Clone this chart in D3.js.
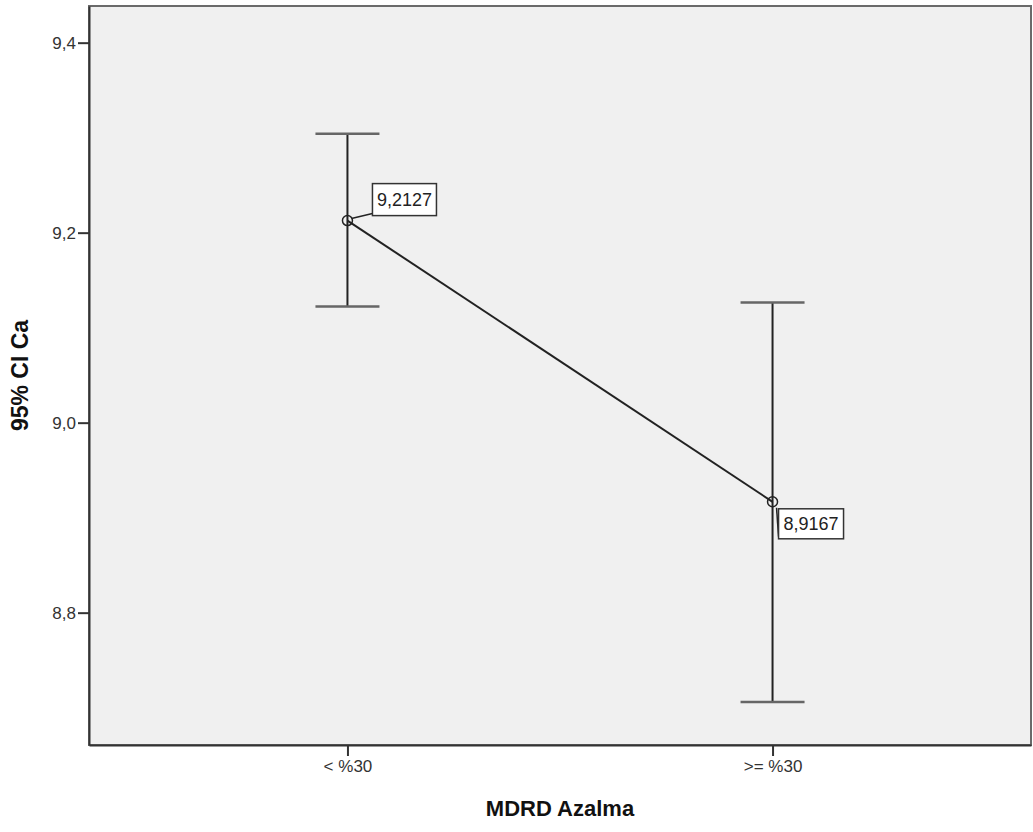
<!DOCTYPE html>
<html>
<head>
<meta charset="utf-8">
<script src="https://cdn.jsdelivr.net/npm/d3@7"></script>
<style>
  body { margin: 0; background: #fff; }
  text { font-family: "Liberation Sans", Arial, sans-serif; }
</style>
</head>
<body>
<svg id="chart" width="1033" height="832"></svg>
<script>
const categories = ["< %30", ">= %30"];
const means = [9.2127, 8.9167];
const lower = [9.1224, 8.706];
const upper = [9.304, 9.1266];
const yTicks = [8.8, 9.0, 9.2, 9.4];
const yDomain = [8.6607, 9.4386];

const data = categories.map((c, i) => ({ cat: c, mean: means[i], lo: lower[i], hi: upper[i] }));

const svg = d3.select("#chart");
const margin = { top: 6, right: 2, bottom: 87, left: 89 };
const width = +svg.attr("width") - margin.left - margin.right;
const height = +svg.attr("height") - margin.top - margin.bottom;

const locale = d3.formatLocale({ decimal: ",", thousands: ".", grouping: [3], currency: ["", ""] });
const fmt1 = locale.format(".1f");
const fmt4 = locale.format(".4f");

const g = svg.append("g").attr("transform", `translate(${margin.left},${margin.top})`);

const x = d3.scalePoint()
    .domain(categories)
    .range([0, width])
    .padding(0.608);

const y = d3.scaleLinear()
    .domain(yDomain)
    .range([height, 0]);

// plot background + frame
g.append("rect")
    .attr("width", width)
    .attr("height", height)
    .attr("fill", "#f0f0f0")
    .attr("stroke", "#6a6a6a")
    .attr("stroke-width", 2);

// axes
const yAxis = g.append("g")
    .call(d3.axisLeft(y).tickValues(yTicks).tickFormat(fmt1).tickSize(11).tickSizeOuter(0).tickPadding(2));
const xAxis = g.append("g")
    .attr("transform", `translate(0,${height})`)
    .call(d3.axisBottom(x).tickSize(11).tickSizeOuter(0).tickPadding(4));

[yAxis, xAxis].forEach(a => {
    a.select(".domain").attr("stroke", "#333").attr("stroke-width", 2);
    a.selectAll(".tick line").attr("stroke", "#333").attr("stroke-width", 2);
    a.selectAll(".tick text").attr("fill", "#333").style("font-size", "17px")
        .style("font-family", "'Liberation Sans', Arial, sans-serif");
});

// error bars
const capHalf = 32;
g.selectAll(".whisker")
    .data(data)
    .enter()
    .append("line")
    .attr("x1", d => x(d.cat)).attr("x2", d => x(d.cat))
    .attr("y1", d => y(d.hi)).attr("y2", d => y(d.lo))
    .attr("stroke", "#222")
    .attr("stroke-width", 2);

["hi", "lo"].forEach(k => {
    g.selectAll(".cap-" + k)
        .data(data)
        .enter()
        .append("line")
        .attr("x1", d => x(d.cat) - capHalf).attr("x2", d => x(d.cat) + capHalf)
        .attr("y1", d => y(d[k])).attr("y2", d => y(d[k]))
        .attr("stroke", "#666")
        .attr("stroke-width", 2.5);
});

// mean line
g.append("path")
    .datum(data)
    .attr("fill", "none")
    .attr("stroke", "#222")
    .attr("stroke-width", 2)
    .attr("d", d3.line().x(d => x(d.cat)).y(d => y(d.mean)));

// labels (box offsets relative to the point)
const boxes = [
    { dx: 25, dy: -37, w: 64, h: 32, lx: 4, ly: -2 },
    { dx: 6, dy: 7, w: 65, h: 30, lx: 4, ly: 6 }
];
data.forEach((d, i) => {
    const cx = x(d.cat), cy = y(d.mean), b = boxes[i];
    g.append("line")
        .attr("x1", cx + b.lx).attr("y1", cy + b.ly)
        .attr("x2", cx + b.dx).attr("y2", cy + b.dy + b.h - 2)
        .attr("stroke", "#222").attr("stroke-width", 1.5);
    g.append("rect")
        .attr("x", cx + b.dx).attr("y", cy + b.dy)
        .attr("width", b.w).attr("height", b.h)
        .attr("fill", "#fff").attr("stroke", "#333").attr("stroke-width", 1.5);
    g.append("text")
        .attr("x", cx + b.dx + b.w / 2).attr("y", cy + b.dy + b.h / 2)
        .attr("text-anchor", "middle").attr("dominant-baseline", "central")
        .attr("fill", "#222").style("font-size", "18px")
        .text(fmt4(d.mean));
});

// mean markers
g.selectAll(".pt")
    .data(data)
    .enter()
    .append("circle")
    .attr("cx", d => x(d.cat)).attr("cy", d => y(d.mean))
    .attr("r", 5)
    .attr("fill", "none")
    .attr("stroke", "#222")
    .attr("stroke-width", 1.5);

// axis titles
svg.append("text")
    .attr("x", margin.left + width / 2).attr("y", 816)
    .attr("text-anchor", "middle")
    .style("font-size", "22px").style("font-weight", "bold")
    .attr("fill", "#111")
    .text("MDRD Azalma");

svg.append("text")
    .attr("transform", `translate(28,${margin.top + height / 2}) rotate(-90)`)
    .attr("text-anchor", "middle")
    .style("font-size", "23px").style("font-weight", "bold")
    .attr("fill", "#111")
    .text("95% CI Ca");
</script>
</body>
</html>
